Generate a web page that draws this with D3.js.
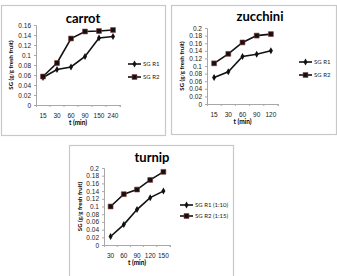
<!DOCTYPE html>
<html>
<head>
<meta charset="utf-8">
<script src="https://cdn.jsdelivr.net/npm/d3@7"></script>
<style>
body { margin: 0; background: #fff; }
svg { display: block; font-family: Lato, "Open Sans", sans-serif; }
</style>
</head>
<body>
<svg id="chart" width="337" height="276"></svg>
<script>
// carrot
const carrotTimes = ['15', '30', '60', '90', '150', '240'];
const carrotR1 = [0.055, 0.071, 0.076, 0.097, 0.134, 0.137];
const carrotR2 = [0.057, 0.084, 0.133, 0.147, 0.148, 0.150];
const carrotTicks = [0, 0.02, 0.04, 0.06, 0.08, 0.1, 0.12, 0.14, 0.16];

// zucchini
const zucchiniTimes = ['15', '30', '60', '90', '120'];
const zucchiniR1 = [0.070, 0.085, 0.125, 0.131, 0.140];
const zucchiniR2 = [0.107, 0.132, 0.162, 0.180, 0.184];

// turnip
const turnipTimes = ['30', '60', '90', '120', '150'];
const turnipR1 = [0.022, 0.053, 0.092, 0.123, 0.140];
const turnipR2 = [0.100, 0.132, 0.144, 0.169, 0.190];

const ticks02 = [0, 0.02, 0.04, 0.06, 0.08, 0.1, 0.12, 0.14, 0.16, 0.18, 0.2];

const svg = d3.select('#chart');

function drawPanel(p) {
    const g = svg.append('g');
    // frame
    g.append('rect')
        .attr('x', p.box[0] + 0.5).attr('y', p.box[1] + 0.5)
        .attr('width', p.box[2]).attr('height', p.box[3])
        .attr('fill', '#fff').attr('stroke', '#c8c8c8').attr('stroke-width', 1.2);

    const x = d3.scaleBand().domain(p.times).range([p.left, p.right]);
    const y = d3.scaleLinear().domain([0, p.ymax]).range([p.bottom, p.top]);

    const yAxis = g.append('g')
        .attr('transform', `translate(${p.left},0)`)
        .call(d3.axisLeft(y).tickValues(p.ticks).tickSize(2).tickPadding(3)
            .tickFormat(d => d === 0 ? '0' : String(+d.toFixed(2))));
    const xAxis = g.append('g')
        .attr('transform', `translate(0,${p.bottom})`)
        .call(d3.axisBottom(x).tickSize(2).tickPadding(6));
    xAxis.selectAll('.tick line').attr('transform', `translate(${x.bandwidth() / 2},0)`);
    [yAxis, xAxis].forEach(a => {
        a.selectAll('path, line').attr('stroke', '#a8a8a8');
        a.selectAll('text').attr('font-size', 6.5).attr('fill', '#222');
    });

    g.append('text')
        .attr('x', p.titleX).attr('y', p.titleY)
        .attr('text-anchor', 'middle')
        .attr('font-size', 13).attr('font-weight', 'bold')
        .text(p.title);
    g.append('text')
        .attr('x', (p.left + p.right) / 2).attr('y', p.bottom + 20)
        .attr('text-anchor', 'middle')
        .attr('font-size', 6.5).attr('font-weight', 'bold')
        .text('t (min)');
    g.append('text')
        .attr('transform', `translate(${p.ylabX},${(p.top + p.bottom) / 2}) rotate(-90)`)
        .attr('text-anchor', 'middle')
        .attr('font-size', 6).attr('font-weight', 'bold')
        .text('SG (g/g fresh fruit)');

    const line = d3.line()
        .x((d, i) => x(p.times[i]) + x.bandwidth() / 2)
        .y(d => y(d));

    const series = [
        { vals: p.r1, name: p.names[0], mark: 'diamond' },
        { vals: p.r2, name: p.names[1], mark: 'square' }
    ];
    series.forEach((s, k) => {
        g.append('path').datum(s.vals)
            .attr('d', line).attr('fill', 'none')
            .attr('stroke', '#111').attr('stroke-width', 1.6);
        const sym = s.mark === 'square' ? d3.symbolSquare : d3.symbolDiamond;
        const size = s.mark === 'square' ? 24 : 14;
        g.selectAll(null).data(s.vals).join('path')
            .attr('d', d3.symbol(sym, size))
            .attr('transform', (d, i) => `translate(${x(p.times[i]) + x.bandwidth() / 2},${y(d)})`)
            .attr('fill', '#111')
            .attr('stroke', s.mark === 'square' ? '#8a3a3a' : 'none')
            .attr('stroke-width', 0.6);

        // legend
        const ly = p.legY + k * p.legGap;
        g.append('line')
            .attr('x1', p.legX).attr('x2', p.legX + 13)
            .attr('y1', ly).attr('y2', ly)
            .attr('stroke', '#111').attr('stroke-width', 1.6);
        g.append('path')
            .attr('d', d3.symbol(sym, size))
            .attr('transform', `translate(${p.legX + 6.5},${ly})`)
            .attr('fill', '#111')
            .attr('stroke', s.mark === 'square' ? '#8a3a3a' : 'none')
            .attr('stroke-width', 0.6);
        g.append('text')
            .attr('x', p.legX + 15).attr('y', ly + 2)
            .attr('font-size', 6).attr('fill', '#222')
            .text(s.name);
    });
}

drawPanel({
    box: [1, 5, 164, 130], title: 'carrot', titleX: 83, titleY: 23,
    times: carrotTimes, r1: carrotR1, r2: carrotR2, ymax: 0.16, ticks: carrotTicks,
    left: 36, right: 120, top: 25, bottom: 105, ylabX: 13,
    names: ['SG R1', 'SG R2'], legX: 128, legY: 64, legGap: 13
});
drawPanel({
    box: [171, 5, 165, 129], title: 'zucchini', titleX: 260, titleY: 21,
    times: zucchiniTimes, r1: zucchiniR1, r2: zucchiniR2, ymax: 0.2, ticks: ticks02,
    left: 207, right: 278, top: 28, bottom: 104, ylabX: 184,
    names: ['SG R1', 'SG R2'], legX: 299, legY: 62, legGap: 13
});
drawPanel({
    box: [69, 145, 164, 135], title: 'turnip', titleX: 152, titleY: 162,
    times: turnipTimes, r1: turnipR1, r2: turnipR2, ymax: 0.2, ticks: ticks02,
    left: 104, right: 170, top: 168, bottom: 245, ylabX: 82,
    names: ['SG R1 (1:10)', 'SG R2 (1:15)'], legX: 180, legY: 205, legGap: 11
});
</script>
</body>
</html>
